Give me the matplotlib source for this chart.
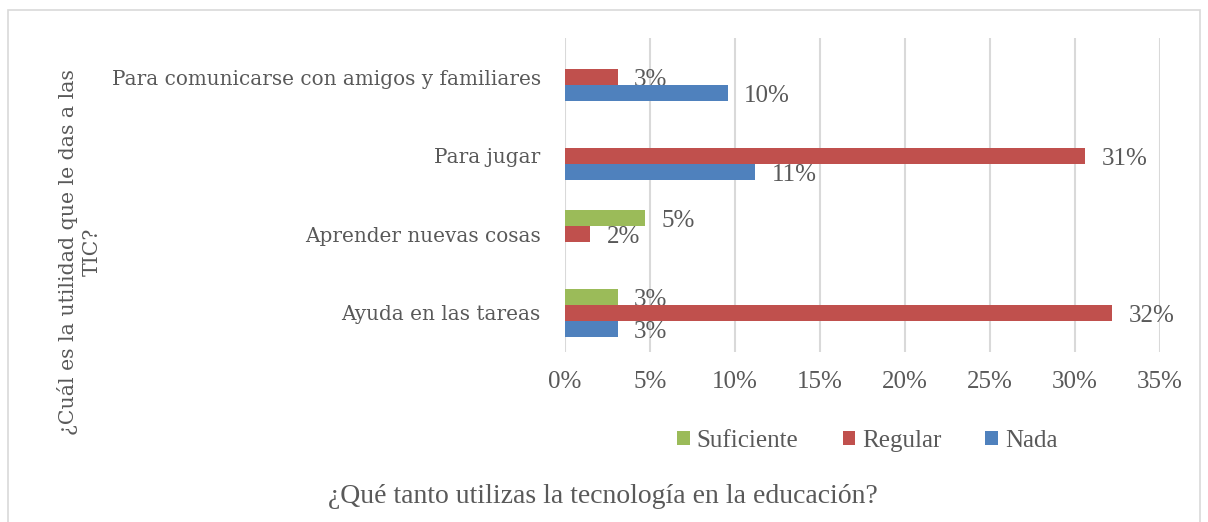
import numpy as np
import matplotlib.pyplot as plt

# data
categorias = ['Ayuda en las tareas', 'Aprender nuevas cosas', 'Para jugar',
              'Para comunicarse con amigos y familiares']
series = ['Suficiente', 'Regular', 'Nada']
suficiente = [0.031, 0.047, np.nan, np.nan]
regular = [0.322, 0.015, 0.306, 0.031]
nada = [0.031, np.nan, 0.112, 0.096]
etiquetas_x = ['0%', '5%', '10%', '15%', '20%', '25%', '30%', '35%']

colores = ['#9BBB59', '#C0504D', '#4F81BD']
gris = '#595959'

fig = plt.figure(figsize=(12.08, 5.22), dpi=100)
ax = fig.add_axes([0.4677, 0.3257, 0.4925, 0.6015])

y = np.arange(len(categorias))
h = 0.205
offsets = [h, 0, -h]
for vals, off, col, nom in zip([suficiente, regular, nada], offsets, colores, series):
    ax.barh(y + off, vals, height=h, color=col, label=nom, zorder=3)
    for yi, v in zip(y, vals):
        if not np.isnan(v):
            ax.text(v + 0.0095, yi + off - 0.04, f'{round(v*100):.0f}%', va='center', ha='left',
                    fontsize=18, color=gris, family='Liberation Serif')

ax.set_xlim(0, 0.35)
ax.set_ylim(-0.5, 3.5)
ax.set_xticks(np.arange(0, 0.351, 0.05))
ax.set_xticklabels(etiquetas_x, family='Liberation Serif', fontsize=18, color=gris)
ax.set_yticks(y)
ax.set_yticklabels(categorias, family='DejaVu Serif', fontsize=14.4, color=gris)
ax.tick_params(axis='y', length=0, pad=17.5)
ax.tick_params(axis='x', length=0, pad=14)
ax.xaxis.grid(True, color='#D9D9D9', linewidth=1.5, zorder=0)
for s in ax.spines.values():
    s.set_visible(False)

fig.text(0.499, 0.048, '¿Qué tanto utilizas la tecnología en la educación?', ha='center', va='center',
         fontsize=20, color=gris, family='Liberation Serif')
fig.text(0.066, 0.517, '¿Cuál es la utilidad que le das a las\nTIC?', ha='center', va='center',
         rotation=90, fontsize=14.7, color=gris, family='DejaVu Serif', linespacing=1.3)

fig.legend(loc='center', bbox_to_anchor=(0.718, 0.155), ncol=3, frameon=False,
           prop={'family': 'Liberation Serif', 'size': 18}, labelcolor=gris,
           handlelength=0.5, handleheight=0.5, handletextpad=0.28, columnspacing=1.76)

fig.patches.append(plt.Rectangle((0.007, -0.02), 0.986, 1.0, transform=fig.transFigure,
                                 fill=False, edgecolor='#D9D9D9', linewidth=1.2))

fig.savefig('out.png', dpi=100)
